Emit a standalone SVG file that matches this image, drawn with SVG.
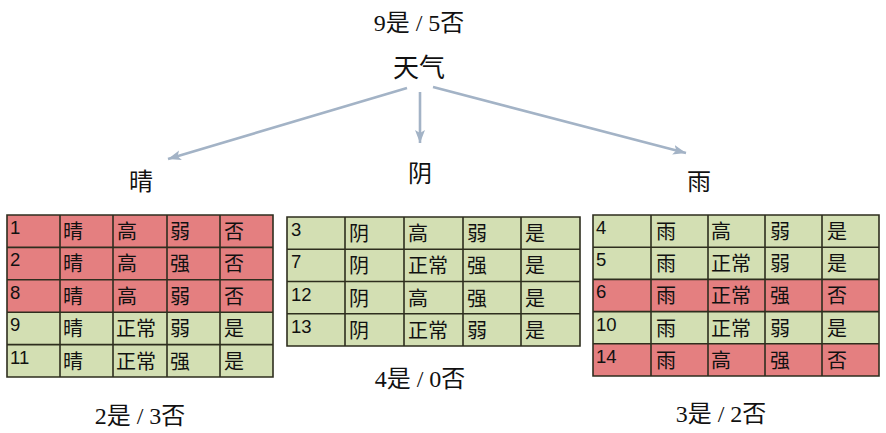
<svg xmlns="http://www.w3.org/2000/svg" width="886" height="433" viewBox="0 0 886 433">
<defs>
<style>
.bg{fill:#ffffff}
.r{fill:#E47F80}
.g{fill:#D3DFB3}
.grid{fill:none;stroke:#2E2E1E;stroke-width:1.6}
.n{font-family:"Liberation Sans","Noto Sans CJK SC",sans-serif;font-size:18.5px;fill:#111}
.c{font-family:"Liberation Sans","Noto Sans CJK SC",sans-serif;font-size:20px;fill:#111}
.t{font-family:"Liberation Serif","Noto Sans CJK SC",serif;font-size:24px;fill:#111;text-anchor:middle}
.lbl{font-family:"Liberation Serif","Noto Sans CJK SC",serif;font-size:24px;fill:#111;text-anchor:middle}
.arr{stroke:#A3B3C6;stroke-width:2.6;fill:none;marker-end:url(#ah)}
</style>
<marker id="ah" markerUnits="userSpaceOnUse" markerWidth="14" markerHeight="12" viewBox="0 0 14 12" refX="13" refY="6" orient="auto">
<path d="M0,1 L13,6 L0,11 L3,6 Z" fill="#A3B3C6"/>
</marker>
</defs>
<rect class="bg" x="0" y="0" width="886" height="433"/>

<g id="root">
<text class="t" x="419" y="31">9是 / 5否</text>
<text class="t" x="419" y="77" style="font-size:26px">天气</text>
</g>

<g id="connectors">
<line class="arr" x1="407" y1="88" x2="168" y2="159"/>
<line class="arr" x1="420" y1="92" x2="420" y2="143"/>
<line class="arr" x1="433" y1="87" x2="686" y2="153"/>
</g>

<g id="label-sunny"><text class="lbl" x="141" y="190">晴</text></g>
<g id="label-overcast"><text class="lbl" x="420" y="182">阴</text></g>
<g id="label-rain"><text class="lbl" x="699" y="190">雨</text></g>

<g id="table-sunny">
<rect class="r" x="7" y="215" width="266" height="32.4"/>
<rect class="r" x="7" y="247.4" width="266" height="32.4"/>
<rect class="r" x="7" y="279.8" width="266" height="32.4"/>
<rect class="g" x="7" y="312.2" width="266" height="32.4"/>
<rect class="g" x="7" y="344.6" width="266" height="32.4"/>
<path class="grid" d="M7,215H273V377H7Z M7,247.4H273 M7,279.8H273 M7,312.2H273 M7,344.6H273 M60,215V377 M113,215V377 M167,215V377 M220,215V377"/>
<text class="n" x="10" y="234">1</text><text class="c" x="63" y="239">晴</text><text class="c" x="117" y="239">高</text><text class="c" x="170" y="239">弱</text><text class="c" x="224" y="239">否</text>
<text class="n" x="10" y="266.4">2</text><text class="c" x="63" y="271.4">晴</text><text class="c" x="117" y="271.4">高</text><text class="c" x="170" y="271.4">强</text><text class="c" x="224" y="271.4">否</text>
<text class="n" x="10" y="298.8">8</text><text class="c" x="63" y="303.8">晴</text><text class="c" x="117" y="303.8">高</text><text class="c" x="170" y="303.8">弱</text><text class="c" x="224" y="303.8">否</text>
<text class="n" x="10" y="331.2">9</text><text class="c" x="63" y="336.2">晴</text><text class="c" x="116" y="336.2">正常</text><text class="c" x="170" y="336.2">弱</text><text class="c" x="224" y="336.2">是</text>
<text class="n" x="10" y="363.6">11</text><text class="c" x="63" y="368.6">晴</text><text class="c" x="116" y="368.6">正常</text><text class="c" x="170" y="368.6">强</text><text class="c" x="224" y="368.6">是</text>
</g>

<g id="table-overcast">
<rect class="g" x="287" y="217" width="293" height="129"/>
<path class="grid" d="M287,217H580V346H287Z M287,249.25H580 M287,281.5H580 M287,313.75H580 M345,217V346 M404,217V346 M463,217V346 M521,217V346"/>
<text class="n" x="291" y="236">3</text><text class="c" x="349" y="241">阴</text><text class="c" x="408" y="241">高</text><text class="c" x="467" y="241">弱</text><text class="c" x="525" y="241">是</text>
<text class="n" x="291" y="268.25">7</text><text class="c" x="349" y="273.25">阴</text><text class="c" x="408" y="273.25">正常</text><text class="c" x="467" y="273.25">强</text><text class="c" x="525" y="273.25">是</text>
<text class="n" x="291" y="300.5">12</text><text class="c" x="349" y="305.5">阴</text><text class="c" x="408" y="305.5">高</text><text class="c" x="467" y="305.5">强</text><text class="c" x="525" y="305.5">是</text>
<text class="n" x="291" y="332.75">13</text><text class="c" x="349" y="337.75">阴</text><text class="c" x="408" y="337.75">正常</text><text class="c" x="467" y="337.75">弱</text><text class="c" x="525" y="337.75">是</text>
</g>

<g id="table-rain">
<rect class="g" x="593" y="215" width="286" height="32.2"/>
<rect class="g" x="593" y="247.2" width="286" height="32.2"/>
<rect class="r" x="593" y="279.4" width="286" height="32.2"/>
<rect class="g" x="593" y="311.6" width="286" height="32.2"/>
<rect class="r" x="593" y="343.8" width="286" height="32.2"/>
<path class="grid" d="M593,215H879V376H593Z M593,247.2H879 M593,279.4H879 M593,311.6H879 M593,343.8H879 M651,215V376 M708,215V376 M765,215V376 M822,215V376"/>
<text class="n" x="596" y="234">4</text><text class="c" x="656" y="239">雨</text><text class="c" x="711" y="239">高</text><text class="c" x="770" y="239">弱</text><text class="c" x="827" y="239">是</text>
<text class="n" x="596" y="266.2">5</text><text class="c" x="656" y="271.2">雨</text><text class="c" x="711" y="271.2">正常</text><text class="c" x="770" y="271.2">弱</text><text class="c" x="827" y="271.2">是</text>
<text class="n" x="596" y="298.4">6</text><text class="c" x="656" y="303.4">雨</text><text class="c" x="711" y="303.4">正常</text><text class="c" x="770" y="303.4">强</text><text class="c" x="827" y="303.4">否</text>
<text class="n" x="596" y="330.6">10</text><text class="c" x="656" y="335.6">雨</text><text class="c" x="711" y="335.6">正常</text><text class="c" x="770" y="335.6">弱</text><text class="c" x="827" y="335.6">是</text>
<text class="n" x="596" y="362.8">14</text><text class="c" x="656" y="367.8">雨</text><text class="c" x="711" y="367.8">高</text><text class="c" x="770" y="367.8">强</text><text class="c" x="827" y="367.8">否</text>
</g>

<g id="count-sunny"><text class="t" x="140" y="424">2是 / 3否</text></g>
<g id="count-overcast"><text class="t" x="420" y="387">4是 / 0否</text></g>
<g id="count-rain"><text class="t" x="721" y="422">3是 / 2否</text></g>
</svg>
